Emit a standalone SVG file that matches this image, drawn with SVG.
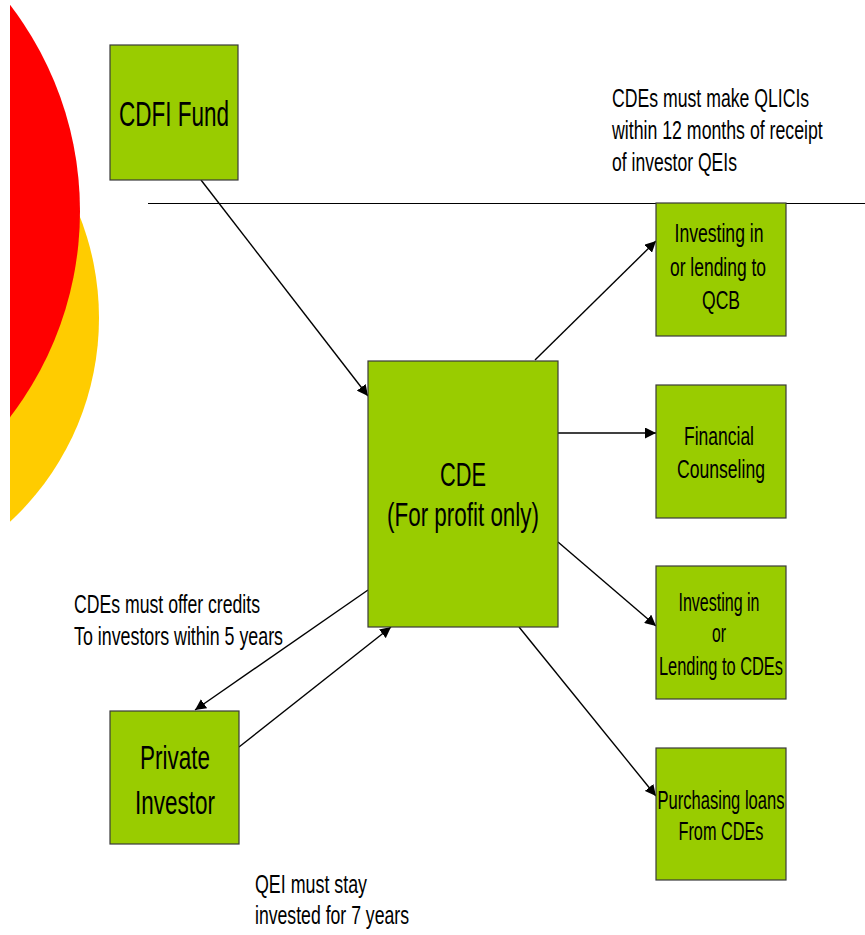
<svg xmlns="http://www.w3.org/2000/svg" width="865" height="935" viewBox="0 0 865 935">
<style>
.box{fill:#99CC00;stroke:#3a3a3a;stroke-width:1.2}
.t{font-family:"Liberation Sans",Arial,sans-serif;fill:#000;text-anchor:middle}
.n{font-family:"Liberation Sans",Arial,sans-serif;fill:#000;font-size:26px}
.c{stroke:#000;stroke-width:1.4;fill:none;marker-end:url(#ah)}
</style>
<defs>
<marker id="ah" viewBox="0 0 10 10" refX="10" refY="5" markerWidth="11" markerHeight="11" markerUnits="userSpaceOnUse" orient="auto">
<path d="M0,0 L10,5 L0,10 z" fill="#000"/>
</marker>
<clipPath id="clipL"><rect x="10" y="0" width="200" height="935"/></clipPath>
</defs>
<g id="decor" clip-path="url(#clipL)">
<circle cx="-179" cy="318" r="278" fill="#FFCC00"/>
<circle cx="-259" cy="211" r="339" fill="#FF0000"/>
</g>
<line x1="148" y1="203.5" x2="865" y2="203.5" stroke="#000" stroke-width="1.2"/>
<g id="connectors">
<line class="c" x1="201" y1="180" x2="368" y2="396"/>
<line class="c" x1="535" y1="360" x2="656" y2="241"/>
<line class="c" x1="558" y1="433" x2="656" y2="433"/>
<line class="c" x1="558" y1="542" x2="656" y2="626"/>
<line class="c" x1="519" y1="627" x2="656" y2="796"/>
<line class="c" x1="368" y1="590" x2="195" y2="710"/>
<line class="c" x1="239" y1="747" x2="391" y2="627"/>
</g>
<g id="cdfi">
<rect class="box" x="110" y="45" width="128" height="135"/>
<text class="t" x="174" y="126" font-size="35" textLength="110" lengthAdjust="spacingAndGlyphs">CDFI Fund</text>
</g>
<g id="cde">
<rect class="box" x="368" y="361" width="190" height="266"/>
<text class="t" x="463" y="486" font-size="34" textLength="46" lengthAdjust="spacingAndGlyphs">CDE</text>
<text class="t" x="463" y="526" font-size="34" textLength="152" lengthAdjust="spacingAndGlyphs">(For profit only)</text>
</g>
<g id="qcb">
<rect class="box" x="656" y="203" width="130" height="133"/>
<text class="t" x="719" y="242" font-size="25" textLength="89" lengthAdjust="spacingAndGlyphs">Investing in</text>
<text class="t" x="718" y="276" font-size="25" textLength="96" lengthAdjust="spacingAndGlyphs">or lending to</text>
<text class="t" x="721" y="309" font-size="25" textLength="38" lengthAdjust="spacingAndGlyphs">QCB</text>
</g>
<g id="counsel">
<rect class="box" x="656" y="385" width="130" height="133"/>
<text class="t" x="719" y="445" font-size="25" textLength="70" lengthAdjust="spacingAndGlyphs">Financial</text>
<text class="t" x="721" y="478" font-size="25" textLength="88" lengthAdjust="spacingAndGlyphs">Counseling</text>
</g>
<g id="lendcde">
<rect class="box" x="656" y="566" width="130" height="133"/>
<text class="t" x="719" y="611" font-size="25" textLength="81" lengthAdjust="spacingAndGlyphs">Investing in</text>
<text class="t" x="719" y="642" font-size="25" textLength="14" lengthAdjust="spacingAndGlyphs">or</text>
<text class="t" x="721" y="675" font-size="25" textLength="124" lengthAdjust="spacingAndGlyphs">Lending to CDEs</text>
</g>
<g id="purchase">
<rect class="box" x="656" y="748" width="130" height="132"/>
<text class="t" x="721" y="809" font-size="25" textLength="127" lengthAdjust="spacingAndGlyphs">Purchasing loans</text>
<text class="t" x="721" y="840" font-size="25" textLength="85" lengthAdjust="spacingAndGlyphs">From CDEs</text>
</g>
<g id="investor">
<rect class="box" x="110" y="711" width="129" height="133"/>
<text class="t" x="175" y="769" font-size="34" textLength="70" lengthAdjust="spacingAndGlyphs">Private</text>
<text class="t" x="175" y="814" font-size="34" textLength="80" lengthAdjust="spacingAndGlyphs">Investor</text>
</g>
<g id="notes">
<text class="n" transform="translate(612 107) scale(0.68 1)" x="0" y="0" textLength="290" lengthAdjust="spacingAndGlyphs">CDEs must make QLICIs</text>
<text class="n" transform="translate(612 139) scale(0.68 1)" x="0" y="0" textLength="310" lengthAdjust="spacingAndGlyphs">within 12 months of receipt</text>
<text class="n" x="612" y="171" textLength="125" lengthAdjust="spacingAndGlyphs">of investor QEIs</text>
<text class="n" x="74" y="613" textLength="186" lengthAdjust="spacingAndGlyphs">CDEs must offer credits</text>
<text class="n" x="74" y="645" textLength="209" lengthAdjust="spacingAndGlyphs">To investors within 5 years</text>
<text class="n" x="255" y="893" textLength="112" lengthAdjust="spacingAndGlyphs">QEI must stay</text>
<text class="n" x="255" y="924" textLength="154" lengthAdjust="spacingAndGlyphs">invested for 7 years</text>
</g>
</svg>
